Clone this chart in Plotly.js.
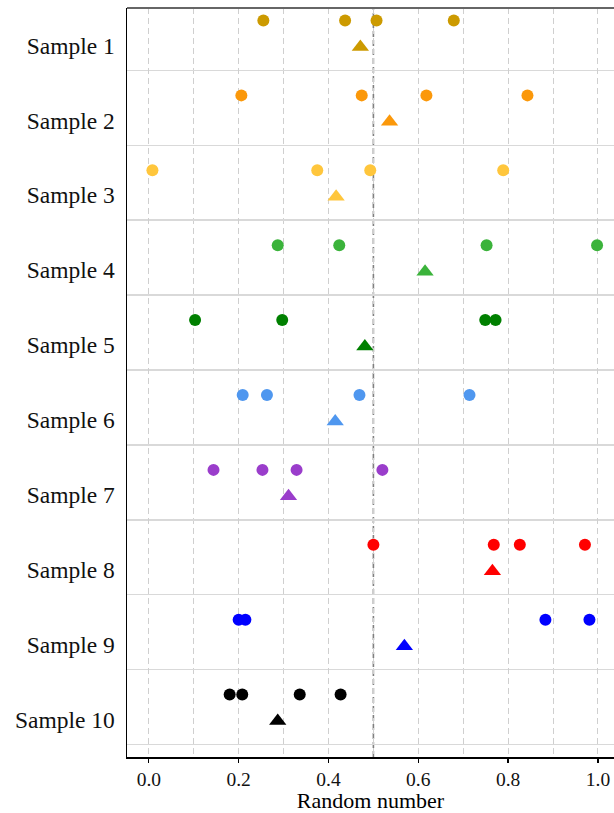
<!DOCTYPE html>
<html>
<head>
<meta charset="utf-8">
<script src="https://cdn.plot.ly/plotly-3.0.1.min.js"></script>
<style>html,body{margin:0;padding:0;background:#fff;}#chart{width:614px;height:813px;}</style>
</head>
<body>
<div id="chart"></div>
<script>
const samples = ['Sample 1','Sample 2','Sample 3','Sample 4','Sample 5','Sample 6','Sample 7','Sample 8','Sample 9','Sample 10'];
const sampleValues = [
  [0.255, 0.437, 0.507, 0.679],
  [0.206, 0.474, 0.618, 0.843],
  [0.008, 0.375, 0.493, 0.789],
  [0.287, 0.424, 0.752, 0.998],
  [0.103, 0.297, 0.749, 0.772],
  [0.209, 0.263, 0.469, 0.714],
  [0.144, 0.253, 0.329, 0.520],
  [0.500, 0.768, 0.826, 0.971],
  [0.200, 0.215, 0.883, 0.981],
  [0.180, 0.208, 0.336, 0.427]
];
const sampleMeans = [0.471, 0.536, 0.417, 0.615, 0.481, 0.415, 0.311, 0.765, 0.569, 0.287];
const sampleColors = ['#cc9a00','#fb980a','#ffc63c','#3bb33b','#008000','#4f97ef','#9a3dcb','#ff0000','#0000ff','#000000'];
const xTickVals = [0, 0.2, 0.4, 0.6, 0.8, 1.0];
const xAxisTitle = 'Random number';

const FONT = "'Liberation Serif', 'Times New Roman', serif";
const traces = [];
samples.forEach((s, i) => {
  const pos = i + 1;
  traces.push({
    type: 'scatter', mode: 'markers', name: s,
    x: sampleValues[i],
    y: sampleValues[i].map(() => pos - 1/3),
    marker: {symbol: 'circle', size: 12, color: sampleColors[i]},
    hoverinfo: 'skip', showlegend: false
  });
  traces.push({
    type: 'scatter', mode: 'markers', name: s + ' mean',
    x: [sampleMeans[i]],
    y: [pos + 0.02],
    marker: {symbol: 'triangle-up', size: 15, color: sampleColors[i]},
    hoverinfo: 'skip', showlegend: false
  });
});

const sepVals = samples.map((s, i) => i + 1 + 1/3);

const layout = {
  width: 614, height: 813,
  margin: {l: 127, r: 0, t: 8, b: 56, pad: 0},
  paper_bgcolor: '#fff', plot_bgcolor: '#fff',
  showlegend: false,
  font: {family: FONT, color: '#000', size: 20},
  xaxis: {
    range: [-0.0486, 1.0357],
    tickmode: 'array', tickvals: xTickVals,
    ticktext: xTickVals.map(v => v.toFixed(1)),
    ticks: 'outside', ticklen: 4, tickwidth: 1.3, tickcolor: '#000',
    tickfont: {family: FONT, size: 19.5, color: '#111'},
    showgrid: true, gridcolor: '#cfcfcf', gridwidth: 1, griddash: '6px,4px',
    minor: {tickmode: 'linear', tick0: 0, dtick: 0.1, showgrid: true, gridcolor: '#cfcfcf', gridwidth: 1, griddash: '6px,4px', ticks: ''},
    zeroline: false,
    showline: true, linecolor: '#000', linewidth: 1.5,
    title: {text: xAxisTitle, font: {family: FONT, size: 22, color: '#000'}, standoff: 3},
    automargin: false, fixedrange: true
  },
  yaxis: {
    range: [10.5, 0.5],
    tickmode: 'array', tickvals: samples.map((s, i) => i + 1), ticktext: samples,
    ticks: '', ticklabelstandoff: 6,
    tickfont: {family: FONT, size: 23.5, color: '#111'},
    showgrid: false,
    minor: {tickmode: 'array', tickvals: sepVals, showgrid: true, gridcolor: '#d9d9d9', gridwidth: 1.5, ticks: ''},
    zeroline: false,
    showline: true, linecolor: '#000', linewidth: 1.5,
    automargin: false, fixedrange: true
  },
  shapes: [
    {type: 'line', xref: 'x', yref: 'paper', x0: 0.5, x1: 0.5, y0: 0, y1: 1,
     line: {color: '#808080', width: 1.6, dash: '6px,3px'}, layer: 'below'},
    {type: 'line', xref: 'paper', yref: 'paper', x0: 0, x1: 1, y0: 1, y1: 1,
     line: {color: '#666666', width: 2}, layer: 'above'}
  ],
  hovermode: false
};

Plotly.newPlot('chart', traces, layout, {staticPlot: true, displayModeBar: false});
</script>
</body>
</html>
